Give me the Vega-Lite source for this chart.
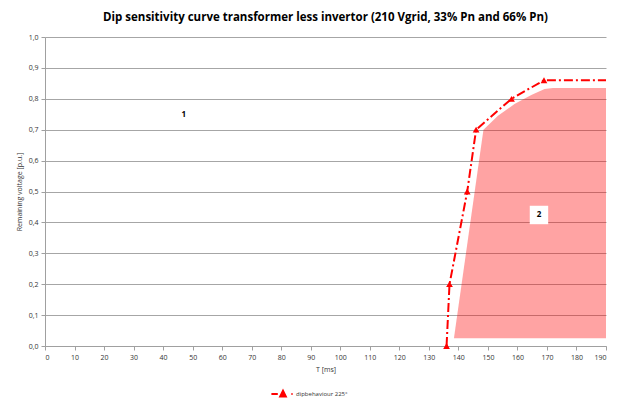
{
  "$schema": "https://vega.github.io/schema/vega-lite/v6.json",
  "width": 561,
  "height": 309,
  "padding": {"left": 15, "top": 11, "right": 14, "bottom": 5},
  "background": "white",
  "title": {
    "text": "Dip sensitivity curve transformer less invertor (210 Vgrid, 33% Pn and 66% Pn)",
    "font": "Open Sans",
    "fontSize": 11.5,
    "fontWeight": "bold",
    "color": "#000000",
    "anchor": "middle",
    "offset": 10
  },
  "config": {
    "view": {"stroke": null},
    "font": "Open Sans",
    "axis": {
      "labelFont": "Open Sans",
      "labelFontSize": 7,
      "labelColor": "#333333",
      "labelOverlap": false,
      "titleFont": "Open Sans",
      "titleFontSize": 7,
      "titleFontWeight": "normal",
      "titleColor": "#333333",
      "domainColor": "#a0a0a0",
      "tickColor": "#a0a0a0",
      "gridColor": "#a6a6a6",
      "gridWidth": 1
    }
  },
  "datasets": {
    "curve": [
      {"T": 136, "V": 0.0, "series": "dipbehaviour 225°"},
      {"T": 137, "V": 0.2, "series": "dipbehaviour 225°"},
      {"T": 143, "V": 0.5, "series": "dipbehaviour 225°"},
      {"T": 146, "V": 0.7, "series": "dipbehaviour 225°"},
      {"T": 158, "V": 0.8, "series": "dipbehaviour 225°"},
      {"T": 169, "V": 0.86, "series": "dipbehaviour 225°"},
      {"T": 190, "V": 0.86, "series": "dipbehaviour 225°"}
    ],
    "region": [
      {"V": 0.025, "Tleft": 138.5, "Tright": 190},
      {"V": 0.64, "Tleft": 147.6, "Tright": 190},
      {"V": 0.7, "Tleft": 148.5, "Tright": 190},
      {"V": 0.745, "Tleft": 153.4, "Tright": 190},
      {"V": 0.783, "Tleft": 159.0, "Tright": 190},
      {"V": 0.812, "Tleft": 164.7, "Tright": 190},
      {"V": 0.832, "Tleft": 169.2, "Tright": 190},
      {"V": 0.835, "Tleft": 172.0, "Tright": 190}
    ],
    "labels": [
      {"T": 47, "V": 0.748, "label": "1"},
      {"T": 167.3, "V": 0.424, "label": "2"}
    ]
  },
  "layer": [
    {
      "data": {"name": "region"},
      "mark": {"type": "area", "orient": "horizontal", "color": "#ff0000", "opacity": 0.36, "interpolate": "linear"},
      "encoding": {
        "y": {
          "field": "V", "type": "quantitative",
          "scale": {"domain": [0, 1]},
          "axis": {
            "values": [0, 0.1, 0.2, 0.3, 0.4, 0.5, 0.6, 0.7, 0.8, 0.9, 1.0],
            "tickCount": 20,
            "labelOverlap": false,
            "labelExpr": "replace(format(datum.value, '.1f'), '.', ',')",
            "title": "Remaining voltage  [p.u.]",
            "grid": true,
            "tickSize": 4,
            "labelPadding": 3,
            "titlePadding": 6
          }
        },
        "x": {
          "field": "Tleft", "type": "quantitative",
          "scale": {"domain": [0, 190], "nice": false},
          "axis": {
            "values": [0,10,20,30,40,50,60,70,80,90,100,110,120,130,140,150,160,170,180,190],
            "tickCount": 40,
            "labelOverlap": false,
            "title": "T [ms]",
            "grid": false,
            "tickSize": 4,
            "labelPadding": 3,
            "titlePadding": 5
          }
        },
        "x2": {"field": "Tright"}
      }
    },
    {
      "data": {"name": "labels"},
      "transform": [{"filter": "datum.label == '2'"}],
      "mark": {"type": "square", "size": 340, "color": "white", "opacity": 1, "filled": true},
      "encoding": {
        "x": {"field": "T", "type": "quantitative"},
        "y": {"field": "V", "type": "quantitative"}
      }
    },
    {
      "data": {"name": "labels"},
      "mark": {"type": "text", "font": "Open Sans", "fontSize": 8, "fontWeight": "bold", "color": "#000000"},
      "encoding": {
        "x": {"field": "T", "type": "quantitative"},
        "y": {"field": "V", "type": "quantitative"},
        "text": {"field": "label"}
      }
    },
    {
      "data": {"name": "curve"},
      "mark": {"type": "line", "strokeWidth": 2, "strokeDash": [9, 3, 2, 3]},
      "encoding": {
        "x": {"field": "T", "type": "quantitative"},
        "y": {"field": "V", "type": "quantitative"},
        "color": {
          "field": "series", "type": "nominal",
          "scale": {"range": ["#ff0000"]},
          "legend": {
            "orient": "none",
            "legendX": 229,
            "legendY": 348,
            "title": null,
            "direction": "horizontal",
            "labelFont": "Open Sans",
            "labelFontSize": 6,
            "labelColor": "#333333",
            "labelOffset": 4,
            "symbolType": "M-1.45,0H-0.65M-0.35,0.3L0,-0.4L0.35,0.3ZM1.05,0H1.2",
            "symbolSize": 256,
            "symbolStrokeWidth": 2,
            "symbolFillColor": "#ff0000",
            "symbolStrokeColor": "#ff0000"
          }
        }
      }
    },
    {
      "data": {"name": "curve"},
      "transform": [{"filter": "datum.T < 190"}],
      "mark": {"type": "point", "shape": "triangle-up", "filled": true, "size": 45, "color": "#ff0000", "opacity": 1},
      "encoding": {
        "x": {"field": "T", "type": "quantitative"},
        "y": {"field": "V", "type": "quantitative"}
      }
    }
  ]
}
